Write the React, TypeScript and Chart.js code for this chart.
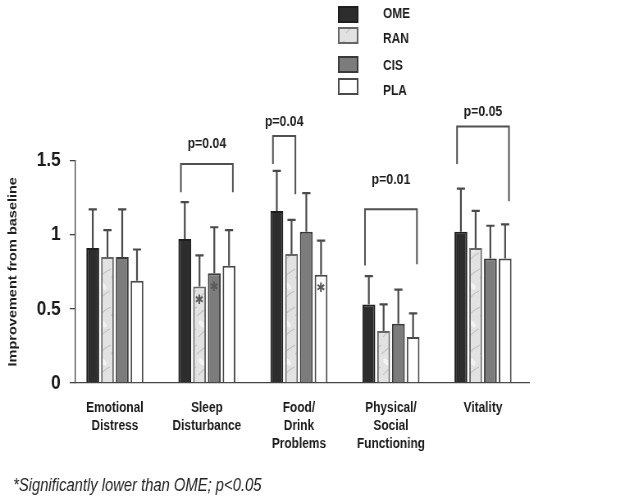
import { useEffect, useRef } from 'react';
import { Chart, registerables } from 'chart.js';

Chart.register(...registerables);

// The figure is drawn on a wider canvas and shown narrower (the reference is horizontally compressed)
const W = 773;
const H = 503;
const CSS_W = 634;

const categories: string[][] = [
  ['Emotional', 'Distress'],
  ['Sleep', 'Disturbance'],
  ['Food/', 'Drink', 'Problems'],
  ['Physical/', 'Social', 'Functioning'],
  ['Vitality'],
];
const seriesNames = ['OME', 'RAN', 'CIS', 'PLA'];

const omeValues = [0.91, 0.97, 1.16, 0.53, 1.02];
const ranValues = [0.85, 0.65, 0.87, 0.35, 0.91];
const cisValues = [0.85, 0.74, 1.02, 0.4, 0.84];
const plaValues = [0.69, 0.79, 0.73, 0.31, 0.84];

const omeErrTop = [1.17, 1.22, 1.43, 0.72, 1.31];
const ranErrTop = [1.03, 0.86, 1.1, 0.53, 1.16];
const cisErrTop = [1.17, 1.05, 1.28, 0.63, 1.06];
const plaErrTop = [0.9, 1.03, 0.96, 0.47, 1.07];

const omeSig = [false, false, false, false, false];
const ranSig = [false, true, false, false, false];
const cisSig = [false, true, false, false, false];
const plaSig = [false, false, true, false, false];

const yTicks = [0, 0.5, 1, 1.5];

const bracketCategory = [1, 2, 3, 4];
const bracketFrom = [0, 0, 0, 0];
const bracketTo = [3, 1, 3, 3];
const bracketTop = [1.476, 1.666, 1.171, 1.73];
const bracketLeftEnd = [1.286, 1.476, 0.792, 1.476];
const bracketRightEnd = [1.286, 1.273, 0.8, 1.225];
const bracketLabelY = [1.611, 1.76, 1.368, 1.828];
const bracketLabels = ['p=0.04', 'p=0.04', 'p=0.01', 'p=0.05'];

const footnote = '*Significantly lower than OME; p<0.05';

const valueSets = [omeValues, ranValues, cisValues, plaValues];
const errSets = [omeErrTop, ranErrTop, cisErrTop, plaErrTop];
const sigSets = [omeSig, ranSig, cisSig, plaSig];

const FONT = '"Liberation Sans", Arial, Helvetica, sans-serif';

function makeMarble(): CanvasPattern | string {
  const c = document.createElement('canvas');
  c.width = 15;
  c.height = 38;
  const g = c.getContext('2d');
  if (!g) return '#e2e2e2';
  g.fillStyle = '#e2e2e2';
  g.fillRect(0, 0, 15, 38);
  g.fillStyle = '#f3f3f3';
  g.beginPath();
  g.ellipse(6, 20, 4.5, 2.5, 0.7, 0, Math.PI * 2);
  g.fill();
  g.strokeStyle = '#c4c4c4';
  g.lineWidth = 1.3;
  g.beginPath();
  g.moveTo(0, 12);
  g.quadraticCurveTo(7, 6, 15, 3);
  g.stroke();
  g.beginPath();
  g.moveTo(2, 33);
  g.quadraticCurveTo(8, 27, 14, 25);
  g.stroke();
  return g.createPattern(c, 'repeat') ?? '#e2e2e2';
}

export default function App() {
  const ref = useRef<HTMLCanvasElement | null>(null);

  useEffect(() => {
    const canvas = ref.current;
    if (!canvas) return;
    const marble = makeMarble();
    const fills: (string | CanvasPattern)[] = ['#2d2d2d', marble, '#7c7c7c', '#ffffff'];
    const borders = ['#1e1e1e', '#666666', '#3a3a3a', '#4a4a4a'];

    const annotations = {
      id: 'annotations',
      afterDatasetsDraw(chart: any) {
        const ctx: CanvasRenderingContext2D = chart.ctx;
        const ys = chart.scales.y;
        ctx.save();
        // error bars
        ctx.strokeStyle = '#4a4a4a';
        ctx.lineWidth = 2.2;
        errSets.forEach((errs, i) => {
          const meta = chart.getDatasetMeta(i);
          meta.data.forEach((el: any, j: number) => {
            const ye = ys.getPixelForValue(errs[j]);
            ctx.beginPath();
            ctx.moveTo(el.x, el.y);
            ctx.lineTo(el.x, ye);
            ctx.moveTo(el.x - 5, ye);
            ctx.lineTo(el.x + 5, ye);
            ctx.stroke();
          });
        });
        // significance asterisks
        ctx.fillStyle = '#5a5a5a';
        ctx.font = '13px "DejaVu Sans"';
        ctx.textAlign = 'center';
        ctx.textBaseline = 'middle';
        sigSets.forEach((flags, i) => {
          const meta = chart.getDatasetMeta(i);
          meta.data.forEach((el: any, j: number) => {
            if (flags[j]) ctx.fillText('\u2731', el.x, el.y + 14);
          });
        });
        // brackets
        ctx.strokeStyle = '#505050';
        ctx.lineWidth = 2;
        ctx.fillStyle = '#1e1e1e';
        ctx.font = `bold 15px ${FONT}`;
        bracketCategory.forEach((cat, k) => {
          const a = chart.getDatasetMeta(bracketFrom[k]).data[cat];
          const b = chart.getDatasetMeta(bracketTo[k]).data[cat];
          const x1 = a.x - a.width * 0.3;
          const x2 = b.x + b.width * 0.3;
          const yt = ys.getPixelForValue(bracketTop[k]);
          ctx.beginPath();
          ctx.moveTo(x1, ys.getPixelForValue(bracketLeftEnd[k]));
          ctx.lineTo(x1, yt);
          ctx.lineTo(x2, yt);
          ctx.lineTo(x2, ys.getPixelForValue(bracketRightEnd[k]));
          ctx.stroke();
          ctx.fillText(bracketLabels[k], (x1 + x2) / 2, ys.getPixelForValue(bracketLabelY[k]));
        });
        ctx.restore();
      },
      afterDraw(chart: any) {
        const ctx: CanvasRenderingContext2D = chart.ctx;
        ctx.save();
        // legend
        const boxTops = [7, 28, 57, 79];
        const labelMid = [14, 39, 66, 91];
        ctx.font = `bold 14.5px ${FONT}`;
        ctx.textAlign = 'left';
        ctx.textBaseline = 'middle';
        seriesNames.forEach((name, i) => {
          ctx.fillStyle = fills[i] as any;
          ctx.fillRect(413, boxTops[i], 23, 15);
          ctx.strokeStyle = borders[i];
          ctx.lineWidth = 2;
          ctx.strokeRect(413, boxTops[i], 23, 15);
          ctx.fillStyle = '#1e1e1e';
          ctx.fillText(name, 467, labelMid[i]);
        });
        // footnote
        ctx.font = `italic 18px ${FONT}`;
        ctx.fillStyle = '#222';
        ctx.fillText(footnote, 16, 486);
        ctx.restore();
      },
    };

    const chart = new Chart(canvas, {
      type: 'bar',
      data: {
        datasets: seriesNames.map((name, i) => ({
          label: name,
          data: valueSets[i].map((v, j) => ({ x: j, y: v })),
          backgroundColor: fills[i] as any,
          borderColor: borders[i],
          borderWidth: 2,
          categoryPercentage: 0.641,
          barPercentage: 0.87,
        })),
      },
      options: {
        responsive: false,
        animation: false,
        devicePixelRatio: 1,
        layout: { padding: { top: 160.5, left: 0, right: W - 645, bottom: 0 } },
        plugins: { legend: { display: false }, tooltip: { enabled: false } },
        scales: {
          x: {
            type: 'linear',
            offset: false,
            min: -0.428,
            max: 4.5,
            afterBuildTicks: (s: any) => {
              s.ticks = categories.map((_, i) => ({ value: i }));
            },
            afterFit: (s: any) => {
              s.height = H - 383;
            },
            grid: { display: false, drawTicks: false },
            border: { display: true, color: '#444', width: 1.3 },
            ticks: {
              autoSkip: false,
              maxRotation: 0,
              padding: 16,
              color: '#1a1a1a',
              font: { family: FONT, size: 14.5, weight: 'bold', lineHeight: 1.24 },
              callback: (v: any) => categories[Number(v)] ?? '',
            },
          },
          y: {
            min: 0,
            max: 1.5,
            afterBuildTicks: (s: any) => {
              s.ticks = yTicks.map((v) => ({ value: v }));
            },
            afterFit: (s: any) => {
              s.width = 92;
            },
            grid: { drawOnChartArea: false, drawTicks: true, tickLength: 7, color: '#444', lineWidth: 1.3 },
            border: { display: true, color: '#444', width: 1.3 },
            ticks: {
              padding: 11,
              color: '#1a1a1a',
              font: { family: FONT, size: 21, weight: 'bold' },
              callback: (v: any) => String(v),
            },
            title: {
              display: true,
              text: 'Improvement from baseline',
              color: '#1e1e1e',
              font: { family: FONT, size: 14.5, weight: 'bold' },
              padding: { top: 7, bottom: 0 },
            },
          },
        },
      },
      plugins: [annotations],
    });
    return () => chart.destroy();
  }, []);

  return (
    <div style={{ position: 'fixed', left: 0, top: 0, width: CSS_W, height: H, background: '#fff', overflow: 'hidden' }}>
      <canvas ref={ref} width={W} height={H} style={{ width: `${CSS_W}px`, height: `${H}px`, display: 'block' }} />
    </div>
  );
}
